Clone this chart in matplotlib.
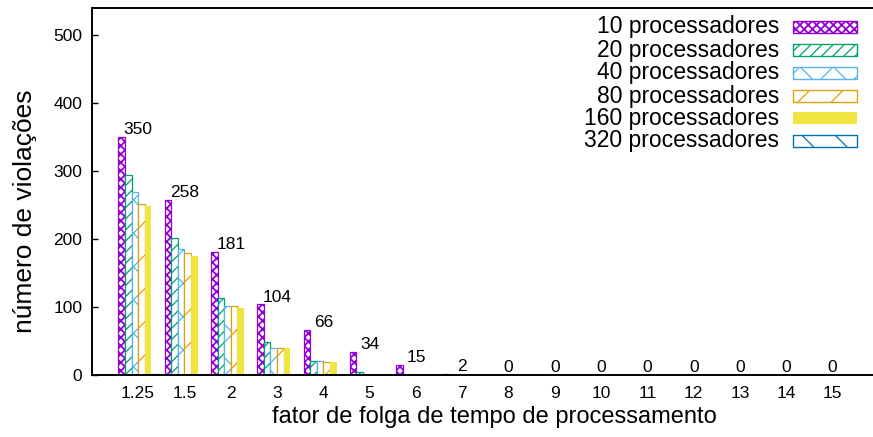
import numpy as np
import matplotlib
matplotlib.use('Agg')
import matplotlib.pyplot as plt
from matplotlib.patches import Rectangle

plt.rcParams['font.family'] = ['Liberation Sans', 'DejaVu Sans']
plt.rcParams['hatch.linewidth'] = 0.9

# === Data ===
categorias = ['1.25', '1.5', '2', '3', '4', '5', '6', '7', '8',
              '9', '10', '11', '12', '13', '14', '15']
p10  = [350, 258, 181, 104, 66, 34, 15, 2, 0, 0, 0, 0, 0, 0, 0, 0]
p20  = [294, 201, 114, 49, 21, 4, 0, 0, 0, 0, 0, 0, 0, 0, 0, 0]
p40  = [269, 185, 101, 39, 20, 1, 0, 0, 0, 0, 0, 0, 0, 0, 0, 0]
p80  = [251, 180, 101, 39, 19, 0, 0, 0, 0, 0, 0, 0, 0, 0, 0, 0]
p160 = [249, 175, 99, 39, 19, 0, 0, 0, 0, 0, 0, 0, 0, 0, 0, 0]
p320 = [2, 0, 0, 0, 0, 0, 0, 0, 0, 0, 0, 0, 0, 0, 0, 0]

# name, values, colour, hatch, hatch line width
series = [
    ('10 processadores',  p10,  '#9400d3', 'xxxx', 1.3),
    ('20 processadores',  p20,  '#009e73', '///', 0.9),
    ('40 processadores',  p40,  '#56b4e9', 'x', 0.9),
    ('80 processadores',  p80,  '#e69f00', '/', 0.9),
    ('160 processadores', p160, '#f0e442', None, 0.9),
    ('320 processadores', p320, '#0072b2', '\\', 0.9),
]

W, H = 873, 437
fig = plt.figure(figsize=(W / 100, H / 100), dpi=100)
ax = fig.add_axes([92 / W, 62 / H, 1 - 92 / W, 367 / H])

x = np.arange(len(categorias))
bw = 0.1426
for j, (nome, vals, cor, hatch, hlw) in enumerate(series):
    pos = x + (j - 2.5) * bw
    with plt.rc_context({'hatch.linewidth': hlw}):
        if hatch is None:
            ax.bar(pos, vals, bw, color=cor, edgecolor='none', linewidth=0)
        else:
            ax.bar(pos, vals, bw, facecolor='white', edgecolor=cor,
                   hatch=hatch, linewidth=0.9)

# value labels over the 10-processor bars
for xi, v in zip(x, p10):
    ax.annotate(str(v), (xi, v), xytext=(0, 2), textcoords='offset points',
                ha='center', va='baseline', fontsize=12.5)

ax.set_xlim(-0.996, (W - 138.1) / 46.3)
ax.set_ylim(0, 540)
ax.set_xticks(x)
ax.set_xticklabels(categorias)
ax.set_yticks([0, 100, 200, 300, 400, 500])
ax.tick_params(axis='x', length=0, labelsize=12.5, pad=8)
ax.tick_params(axis='y', direction='in', length=4.5, width=1, labelsize=12.5, pad=7)
ax.spines['right'].set_visible(False)
for s in ['left', 'bottom', 'top']:
    ax.spines[s].set_linewidth(1.4)

fig.text(494 / W, 1 - 417 / H, 'fator de folga de tempo de processamento',
         ha='center', va='center', fontsize=17)
fig.text(25 / W, 1 - 211 / H, 'número de violações', rotation=90,
         ha='center', va='center', fontsize=19)

# key: text on the left, swatch on the right
row_y = [27, 50, 73, 96, 118, 141]
for (nome, vals, cor, hatch, hlw), yy in zip(series, row_y):
    fig.text(779 / W, 1 - yy / H, nome, ha='right', va='center', fontsize=16.5)
    with plt.rc_context({'hatch.linewidth': hlw}):
        if hatch is None:
            r = Rectangle((793 / W, 1 - (yy + 6) / H), 64 / W, 12 / H,
                          transform=fig.transFigure, facecolor=cor, edgecolor='none')
        else:
            r = Rectangle((793 / W, 1 - (yy + 6) / H), 64 / W, 12 / H,
                          transform=fig.transFigure, facecolor='white',
                          edgecolor=cor, hatch=hatch, linewidth=1.0)
    fig.patches.append(r)

fig.savefig('out.png', dpi=100)
